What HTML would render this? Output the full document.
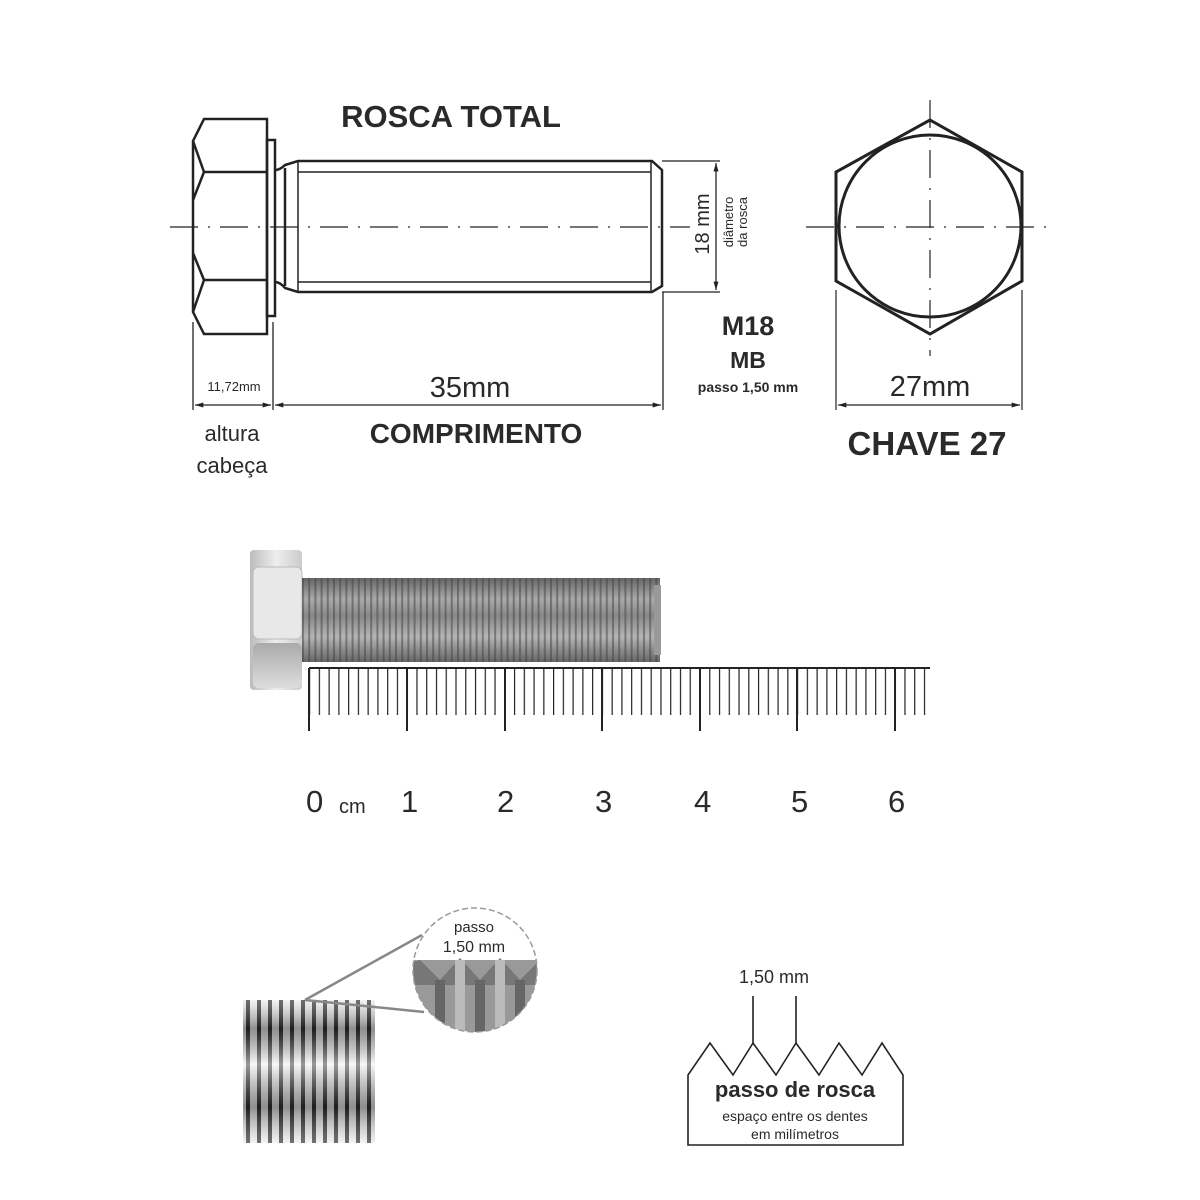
<!DOCTYPE html>
<html><head><meta charset="utf-8"><style>
html,body{margin:0;padding:0;background:#fff;}
svg{display:block;}
text{font-family:"Liberation Sans",Arial,sans-serif;fill:#2a2a2a;}
</style></head><body>
<svg width="1200" height="1200" viewBox="0 0 1200 1200" xmlns="http://www.w3.org/2000/svg">
<defs>
 <marker id="ar" viewBox="0 0 10 6" refX="10" refY="3" markerWidth="12" markerHeight="5" orient="auto-start-reverse" markerUnits="userSpaceOnUse"><path d="M0,0 L10,3 L0,6 z" fill="#222"/></marker>
 <pattern id="ticks" x="309" y="0" width="9.76" height="1200" patternUnits="userSpaceOnUse"><line x1="0.6" y1="668" x2="0.6" y2="715" stroke="#222" stroke-width="1.2"/></pattern>
 <linearGradient id="thrV" x1="0" y1="0" x2="0" y2="1">
  <stop offset="0" stop-color="#666"/><stop offset="0.25" stop-color="#aaa"/><stop offset="0.45" stop-color="#888"/><stop offset="0.7" stop-color="#b5b5b5"/><stop offset="1" stop-color="#666"/></linearGradient>
 <pattern id="thrP" x="302" y="0" width="6.2" height="10" patternUnits="userSpaceOnUse"><rect x="0" y="0" width="2" height="10" fill="#3f3f3f" opacity="0.5"/></pattern>
 <linearGradient id="headG" x1="0" y1="0" x2="1" y2="0"><stop offset="0" stop-color="#bbb"/><stop offset="0.5" stop-color="#eee"/><stop offset="1" stop-color="#ccc"/></linearGradient>
 <linearGradient id="headG2" x1="0" y1="0" x2="0" y2="1"><stop offset="0" stop-color="#aaa"/><stop offset="1" stop-color="#ddd"/></linearGradient>
 <pattern id="thr2" x="243" y="0" width="11" height="10" patternUnits="userSpaceOnUse"><rect x="0" y="0" width="11" height="10" fill="#eee"/><rect x="3" y="0" width="4" height="10" fill="#333"/></pattern>
 <linearGradient id="thr2V" x1="0" y1="0" x2="0" y2="1"><stop offset="0" stop-color="#fff" stop-opacity="0.3"/><stop offset="0.2" stop-color="#000" stop-opacity="0.4"/><stop offset="0.45" stop-color="#fff" stop-opacity="0.5"/><stop offset="0.75" stop-color="#000" stop-opacity="0.4"/><stop offset="1" stop-color="#fff" stop-opacity="0.3"/></linearGradient>
 <clipPath id="circ"><circle cx="475" cy="970" r="62"/></clipPath>
</defs>

<g fill="none" stroke="#222" stroke-width="2.5">
 <path d="M204,119 L267,119 L267,334 L204,334 L193,312 L193,141 Z"/>
 <path d="M193,141 L204,172 L267,172 M204,172 L193,200"/>
 <path d="M193,253 L204,280 L267,280 M204,280 L193,312"/>
 <rect x="267" y="140" width="8" height="176"/>
 <path d="M275,170 Q280,170 285,165 L298,161 L652,161 L662,170 L662,286 L652,292 L298,292 L285,288 Q280,282 275,282"/>
 <path d="M285,168 L285,286" />
</g>
<g fill="none" stroke="#222" stroke-width="1.5">
 <path d="M298,161 L298,292 M651,161 L651,292 M298,172 L651,172 M298,282 L651,282"/>
</g>
<line x1="170" y1="227" x2="690" y2="227" stroke="#222" stroke-width="1.2" stroke-dasharray="28,10,2,10"/>
<text x="451" y="127" font-size="31" font-weight="bold" text-anchor="middle">ROSCA TOTAL</text>

<g stroke="#222" stroke-width="1.3">
 <line x1="662" y1="161" x2="720" y2="161"/><line x1="662" y1="292" x2="720" y2="292"/>
 <line x1="716" y1="163" x2="716" y2="290" marker-start="url(#ar)" marker-end="url(#ar)"/>
</g>
<text transform="translate(709,224) rotate(-90)" font-size="20" text-anchor="middle">18 mm</text>
<text transform="translate(733,222) rotate(-90)" font-size="13" text-anchor="middle">diâmetro</text>
<text transform="translate(747,222) rotate(-90)" font-size="13" text-anchor="middle">da rosca</text>

<text x="748" y="335" font-size="27" font-weight="bold" text-anchor="middle">M18</text>
<text x="748" y="368" font-size="23" font-weight="bold" text-anchor="middle">MB</text>
<text x="748" y="392" font-size="14" font-weight="bold" text-anchor="middle">passo 1,50 mm</text>

<g stroke="#222" stroke-width="1.3">
 <line x1="193" y1="322" x2="193" y2="410"/><line x1="273" y1="322" x2="273" y2="410"/><line x1="663" y1="292" x2="663" y2="410"/>
 <line x1="195" y1="405" x2="271" y2="405" marker-start="url(#ar)" marker-end="url(#ar)"/>
 <line x1="275" y1="405" x2="661" y2="405" marker-start="url(#ar)" marker-end="url(#ar)"/>
</g>
<text x="234" y="391" font-size="13" text-anchor="middle">11,72mm</text>
<text x="470" y="397" font-size="29" text-anchor="middle">35mm</text>
<text x="476" y="443" font-size="28" font-weight="bold" text-anchor="middle">COMPRIMENTO</text>
<text x="232" y="441" font-size="22" text-anchor="middle">altura</text>
<text x="232" y="473" font-size="22" text-anchor="middle">cabeça</text>

<g fill="none" stroke="#222" stroke-width="3">
 <path d="M930,120 L1022,172 L1022,281 L930,334 L836,281 L836,172 Z"/>
 <circle cx="930" cy="226" r="91"/>
</g>
<g stroke="#222" stroke-width="1.2">
 <line x1="806" y1="227" x2="1055" y2="227" stroke-dasharray="28,10,2,10"/>
 <line x1="930" y1="100" x2="930" y2="356" stroke-dasharray="28,10,2,10"/>
 <line x1="836" y1="290" x2="836" y2="410"/><line x1="1022" y1="290" x2="1022" y2="410"/>
 <line x1="838" y1="405" x2="1020" y2="405" marker-start="url(#ar)" marker-end="url(#ar)"/>
</g>
<text x="930" y="396" font-size="29" text-anchor="middle">27mm</text>
<text x="927" y="455" font-size="33" font-weight="bold" text-anchor="middle">CHAVE 27</text>

<rect x="250" y="550" width="52" height="140" rx="4" fill="url(#headG)"/>
<rect x="253" y="567" width="49" height="72" rx="6" fill="#e8e8e8" stroke="#bbb"/>
<rect x="253" y="643" width="49" height="45" rx="6" fill="url(#headG2)"/>
<rect x="302" y="578" width="358" height="84" fill="url(#thrV)"/>
<rect x="302" y="578" width="358" height="84" fill="url(#thrP)"/>
<rect x="654" y="585" width="7" height="70" fill="#999"/>

<line x1="309" y1="668" x2="930" y2="668" stroke="#222" stroke-width="2"/>
<rect x="309" y="668" width="621" height="48" fill="url(#ticks)"/>
<g stroke="#222" stroke-width="2">
 <line x1="309" y1="668" x2="309" y2="731"/><line x1="407" y1="668" x2="407" y2="731"/><line x1="505" y1="668" x2="505" y2="731"/><line x1="602" y1="668" x2="602" y2="731"/><line x1="700" y1="668" x2="700" y2="731"/><line x1="797" y1="668" x2="797" y2="731"/><line x1="895" y1="668" x2="895" y2="731"/>
</g>
<g font-size="31" fill="#222">
 <text x="306" y="812">0</text><text x="339" y="813" font-size="20">cm</text>
<text x="401" y="812">1</text><text x="497" y="812">2</text><text x="595" y="812">3</text><text x="694" y="812">4</text><text x="791" y="812">5</text><text x="888" y="812">6</text></g>

<rect x="243" y="1000" width="132" height="143" fill="url(#thr2)"/>
<rect x="243" y="1000" width="132" height="143" fill="url(#thr2V)"/>
<g stroke="#888" stroke-width="2.5"><line x1="305" y1="1000" x2="422" y2="935"/><line x1="305" y1="1000" x2="424" y2="1012"/></g>
<circle cx="475" cy="970" r="62" fill="#fff"/>
<g clip-path="url(#circ)">
 <rect x="405" y="960" width="140" height="80" fill="#999"/>
 <path d="M405,965 L420,960 L440,980 L460,958 L480,980 L500,958 L520,980 L540,960 L545,960 L545,985 L405,985 Z" fill="#777"/>
 <path d="M440,980 L440,1040 M480,980 L480,1040 M520,980 L520,1040" stroke="#666" stroke-width="10"/>
 <path d="M460,960 L460,1040 M500,960 L500,1040" stroke="#bbb" stroke-width="10"/>
</g>
<circle cx="475" cy="970" r="62" fill="none" stroke="#999" stroke-width="1.5" stroke-dasharray="6,3"/>
<text x="474" y="932" font-size="15" text-anchor="middle">passo</text>
<text x="474" y="952" font-size="16" text-anchor="middle">1,50 mm</text>

<path d="M688,1145 L688,1075 L710,1043 L733,1075 L753,1043 L776,1075 L796,1043 L819,1075 L839,1043 L862,1075 L882,1043 L903,1075 L903,1145 Z" fill="#fff" stroke="#222" stroke-width="1.6"/>
<g stroke="#222" stroke-width="1.6"><line x1="753" y1="996" x2="753" y2="1043"/><line x1="796" y1="996" x2="796" y2="1043"/></g>
<text x="774" y="983" font-size="18" text-anchor="middle">1,50 mm</text>
<text x="795" y="1097" font-size="22" font-weight="bold" text-anchor="middle">passo de rosca</text>
<text x="795" y="1121" font-size="14" text-anchor="middle">espaço entre os dentes</text>
<text x="795" y="1139" font-size="14" text-anchor="middle">em milímetros</text>
</svg>
</body></html>
